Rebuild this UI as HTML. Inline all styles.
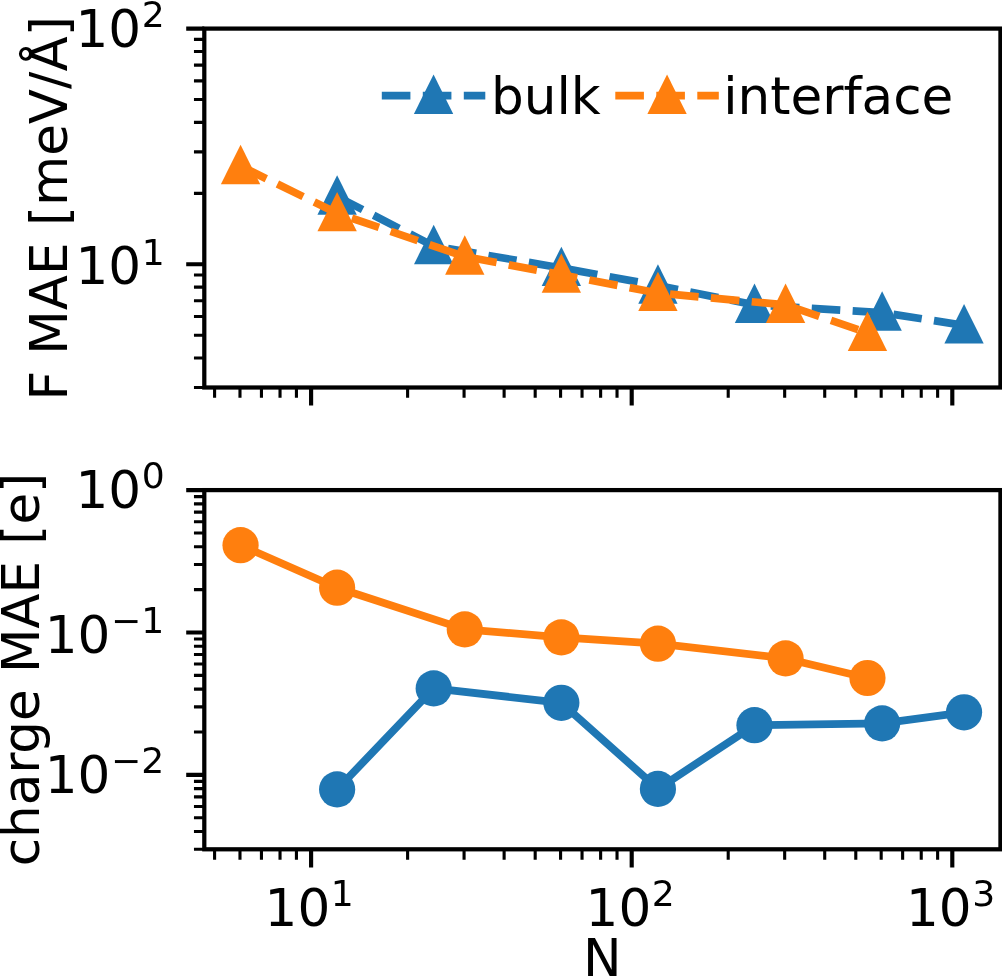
<!DOCTYPE html>
<html lang="en"><head><meta charset="utf-8"><title>MAE vs N</title>
<style>html,body{margin:0;padding:0;background:#fff}body{width:1002px;height:976px;overflow:hidden}</style></head>
<body>
<svg width="1002" height="976" viewBox="0 0 1002 976" style="display:block;will-change:transform">
<rect width="1002" height="976" fill="#fff"/>
<polyline points="337.12,196.6 433.69,246.1 561.35,268 657.92,285.6 754.49,304.9 882.15,312.6 964.04,325.4" fill="none" stroke="#1f77b4" stroke-width="7.75" stroke-linejoin="round" stroke-dasharray="28.62 12.38"/>
<polygon points="337.12,175.32 317.44,214.69 356.8,214.69" fill="#1f77b4"/>
<polygon points="433.69,224.82 414.01,264.19 453.37,264.19" fill="#1f77b4"/>
<polygon points="561.35,246.72 541.67,286.09 581.03,286.09" fill="#1f77b4"/>
<polygon points="657.92,264.32 638.24,303.69 677.6,303.69" fill="#1f77b4"/>
<polygon points="754.49,283.62 734.81,322.99 774.17,322.99" fill="#1f77b4"/>
<polygon points="882.15,291.32 862.47,330.69 901.83,330.69" fill="#1f77b4"/>
<polygon points="964.04,304.12 944.36,343.49 983.72,343.49" fill="#1f77b4"/>
<polyline points="240.55,166.1 337.12,213.2 464.78,256.6 561.35,274.7 657.92,293 785.58,304.9 867.47,332.8" fill="none" stroke="#ff7f0e" stroke-width="7.75" stroke-linejoin="round" stroke-dasharray="28.62 12.38"/>
<polygon points="240.55,144.82 220.87,184.19 260.23,184.19" fill="#ff7f0e"/>
<polygon points="337.12,191.92 317.44,231.29 356.8,231.29" fill="#ff7f0e"/>
<polygon points="464.78,235.32 445.1,274.69 484.46,274.69" fill="#ff7f0e"/>
<polygon points="561.35,253.42 541.67,292.79 581.03,292.79" fill="#ff7f0e"/>
<polygon points="657.92,271.72 638.24,311.09 677.6,311.09" fill="#ff7f0e"/>
<polygon points="785.58,283.62 765.9,322.99 805.26,322.99" fill="#ff7f0e"/>
<polygon points="867.47,311.52 847.79,350.89 887.15,350.89" fill="#ff7f0e"/>
<polyline points="337.12,789.4 433.69,688.4 561.35,702.8 657.92,788.9 754.49,725.2 882.15,723.4 964.04,712.3" fill="none" stroke="#1f77b4" stroke-width="7.75" stroke-linejoin="round"/>
<circle cx="337.12" cy="789.4" r="18.1" fill="#1f77b4"/>
<circle cx="433.69" cy="688.4" r="18.1" fill="#1f77b4"/>
<circle cx="561.35" cy="702.8" r="18.1" fill="#1f77b4"/>
<circle cx="657.92" cy="788.9" r="18.1" fill="#1f77b4"/>
<circle cx="754.49" cy="725.2" r="18.1" fill="#1f77b4"/>
<circle cx="882.15" cy="723.4" r="18.1" fill="#1f77b4"/>
<circle cx="964.04" cy="712.3" r="18.1" fill="#1f77b4"/>
<polyline points="240.55,545.2 337.12,587.7 464.78,629.4 561.35,637.4 657.92,643.7 785.58,658.4 867.47,678" fill="none" stroke="#ff7f0e" stroke-width="7.75" stroke-linejoin="round"/>
<circle cx="240.55" cy="545.2" r="18.1" fill="#ff7f0e"/>
<circle cx="337.12" cy="587.7" r="18.1" fill="#ff7f0e"/>
<circle cx="464.78" cy="629.4" r="18.1" fill="#ff7f0e"/>
<circle cx="561.35" cy="637.4" r="18.1" fill="#ff7f0e"/>
<circle cx="657.92" cy="643.7" r="18.1" fill="#ff7f0e"/>
<circle cx="785.58" cy="658.4" r="18.1" fill="#ff7f0e"/>
<circle cx="867.47" cy="678" r="18.1" fill="#ff7f0e"/>
<path d="M311.1 387.5v18.09M631.7 387.5v18.09M952.3 387.5v18.09M204.3 28.6h-18.09M204.3 264.27h-18.09" stroke="#000" stroke-width="4.14" fill="none"/>
<path d="M214.59 387.5v10.34M239.98 387.5v10.34M261.44 387.5v10.34M280.03 387.5v10.34M296.43 387.5v10.34M407.61 387.5v10.34M464.07 387.5v10.34M504.12 387.5v10.34M535.19 387.5v10.34M560.58 387.5v10.34M582.04 387.5v10.34M600.63 387.5v10.34M617.03 387.5v10.34M728.21 387.5v10.34M784.67 387.5v10.34M824.72 387.5v10.34M855.79 387.5v10.34M881.18 387.5v10.34M902.64 387.5v10.34M921.23 387.5v10.34M937.63 387.5v10.34M204.3 193.33h-10.34M204.3 151.83h-10.34M204.3 122.38h-10.34M204.3 99.54h-10.34M204.3 80.88h-10.34M204.3 65.11h-10.34M204.3 51.44h-10.34M204.3 39.38h-10.34M204.3 387.5h-10.34M204.3 358.06h-10.34M204.3 335.22h-10.34M204.3 316.56h-10.34M204.3 300.78h-10.34M204.3 287.11h-10.34M204.3 275.06h-10.34" stroke="#000" stroke-width="3.1" fill="none"/>
<rect x="204.3" y="28.6" width="796.15" height="358.9" fill="none" stroke="#000" stroke-width="4.24"/>
<path d="M311.1 849.3v18.09M631.7 849.3v18.09M952.3 849.3v18.09M204.3 490.1h-18.09M204.3 632.48h-18.09M204.3 774.85h-18.09" stroke="#000" stroke-width="4.14" fill="none"/>
<path d="M214.59 849.3v10.34M239.98 849.3v10.34M261.44 849.3v10.34M280.03 849.3v10.34M296.43 849.3v10.34M407.61 849.3v10.34M464.07 849.3v10.34M504.12 849.3v10.34M535.19 849.3v10.34M560.58 849.3v10.34M582.04 849.3v10.34M600.63 849.3v10.34M617.03 849.3v10.34M728.21 849.3v10.34M784.67 849.3v10.34M824.72 849.3v10.34M855.79 849.3v10.34M881.18 849.3v10.34M902.64 849.3v10.34M921.23 849.3v10.34M937.63 849.3v10.34M204.3 589.62h-10.34M204.3 564.55h-10.34M204.3 546.76h-10.34M204.3 532.96h-10.34M204.3 521.69h-10.34M204.3 512.15h-10.34M204.3 503.9h-10.34M204.3 496.61h-10.34M204.3 731.99h-10.34M204.3 706.92h-10.34M204.3 689.13h-10.34M204.3 675.34h-10.34M204.3 664.06h-10.34M204.3 654.53h-10.34M204.3 646.27h-10.34M204.3 638.99h-10.34M204.3 849.3h-10.34M204.3 831.51h-10.34M204.3 817.71h-10.34M204.3 806.44h-10.34M204.3 796.91h-10.34M204.3 788.65h-10.34M204.3 781.37h-10.34" stroke="#000" stroke-width="3.1" fill="none"/>
<rect x="204.3" y="490.1" width="796.15" height="359.2" fill="none" stroke="#000" stroke-width="4.24"/>
<g font-family="'DejaVu Sans','Liberation Sans',sans-serif" font-size="51.6" fill="#000">
<text x="75.5" y="46.8" text-anchor="start">10<tspan font-size="36.12" dx="0.6" dy="-19.9">2</tspan></text>
<text x="75.5" y="284.4" text-anchor="start">10<tspan font-size="36.12" dx="0.6" dy="-19.9">1</tspan></text>
<text x="75.5" y="508.3" text-anchor="start">10<tspan font-size="36.12" dx="0.6" dy="-19.9">0</tspan></text>
<text x="44.7" y="653.1" text-anchor="start">10<tspan font-size="36.12" dx="0.6" dy="-19.9">−1</tspan></text>
<text x="44.7" y="793.1" text-anchor="start">10<tspan font-size="36.12" dx="0.6" dy="-19.9">−2</tspan></text>
<text x="264.6" y="926.3" text-anchor="start">10<tspan font-size="36.12" dx="0.6" dy="-19.9">1</tspan></text>
<text x="585.6" y="926.3" text-anchor="start">10<tspan font-size="36.12" dx="0.6" dy="-19.9">2</tspan></text>
<text x="906" y="926.3" text-anchor="start">10<tspan font-size="36.12" dx="0.6" dy="-19.9">3</tspan></text>
<text x="602.4" y="975.7" text-anchor="middle">N</text>
<text transform="translate(67,208.45) rotate(-90)" text-anchor="middle" letter-spacing="-0.06">F MAE [meV/Å]</text>
<text transform="translate(39.4,669.6) rotate(-90)" text-anchor="middle" letter-spacing="-0.1">charge MAE [e]</text>
<text x="491" y="113.5">bulk</text>
<text x="723.2" y="113.5">interface</text>
</g>
<path d="M381.8 95.7h103.5" stroke="#1f77b4" stroke-width="7.75" stroke-dasharray="28.62 12.38" fill="none"/><polygon points="433.55,74.52 413.87,113.89 453.23,113.89" fill="#1f77b4"/>
<path d="M615.3 95.7h103.5" stroke="#ff7f0e" stroke-width="7.75" stroke-dasharray="28.62 12.38" fill="none"/><polygon points="667.05,74.52 647.37,113.89 686.73,113.89" fill="#ff7f0e"/>
</svg>
</body></html>
